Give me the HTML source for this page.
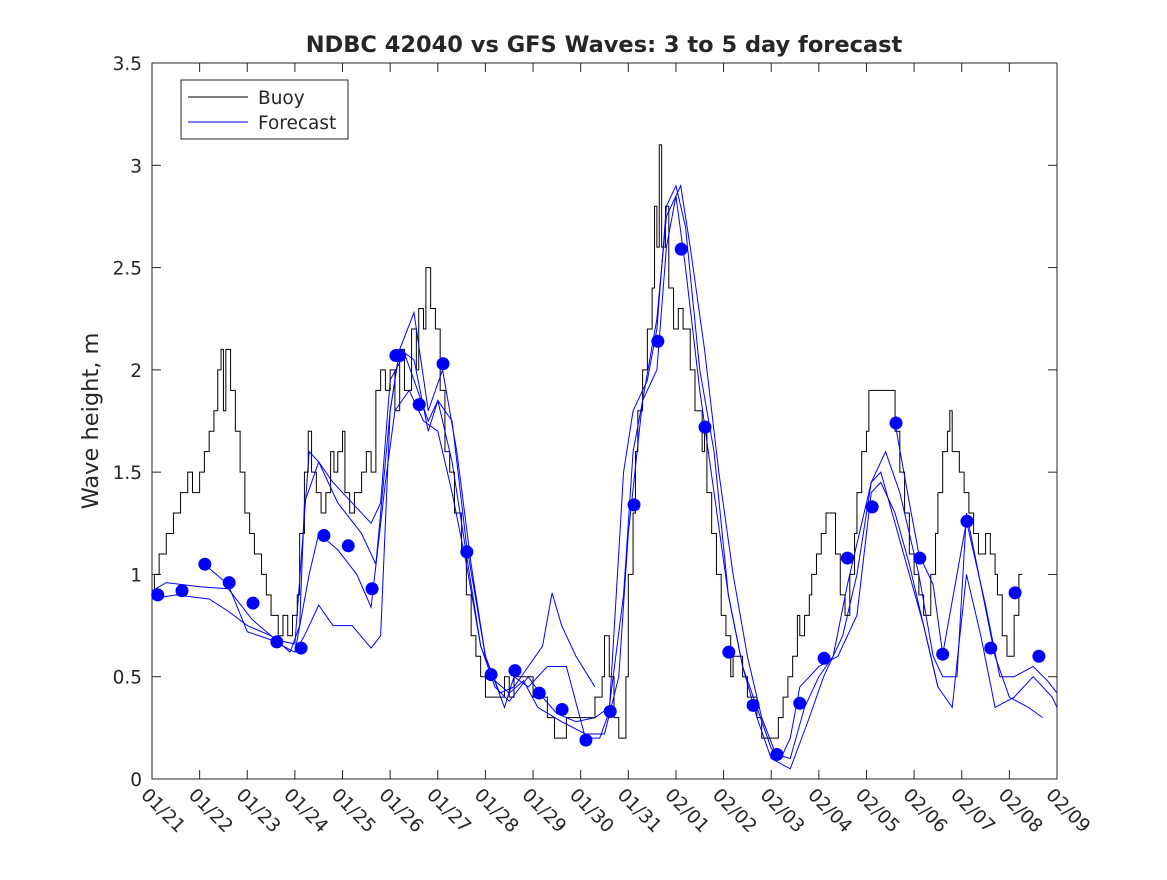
<!DOCTYPE html>
<html><head><meta charset="utf-8"><style>
html,body{margin:0;padding:0;background:#fff;}
svg text{font-family:"DejaVu Sans","Liberation Sans",sans-serif;fill:#262626;}
</style></head><body>
<svg id="chart" width="1167" height="875" xmlns="http://www.w3.org/2000/svg">
<rect width="1167" height="875" fill="#fff"/>
<text x="604" y="52" text-anchor="middle" font-size="22.5" font-weight="bold" fill="#000">NDBC 42040 vs GFS Waves: 3 to 5 day forecast</text>
<text transform="translate(98,421) rotate(-90)" text-anchor="middle" font-size="22.5">Wave height, m</text>
<g id="axes"></g>
<g id="series"></g>
<g>
<rect x="181" y="80" width="167" height="59" fill="#fff" stroke="#262626" stroke-width="1"/>
<line x1="188" y1="97" x2="248" y2="97" stroke="#000"/>
<text x="258" y="104" font-size="18.5">Buoy</text>
<line x1="188" y1="122" x2="248" y2="122" stroke="#00f"/>
<text x="258" y="129" font-size="18.5">Forecast</text>
</g>
</svg>
<script>
const xTickLabels=["01/21","01/22","01/23","01/24","01/25","01/26","01/27","01/28","01/29","01/30","01/31","02/01","02/02","02/03","02/04","02/05","02/06","02/07","02/08","02/09"];
const yTicks=[0,0.5,1,1.5,2,2.5,3,3.5];
const buoyDays=[0,0.05,0.15,0.3,0.45,0.6,0.75,0.85,1.0,1.1,1.2,1.3,1.38,1.45,1.5,1.55,1.65,1.75,1.85,1.95,2.05,2.15,2.3,2.4,2.5,2.65,2.75,2.85,2.95,3.05,3.1,3.2,3.28,3.35,3.45,3.55,3.65,3.75,3.82,3.9,4.0,4.05,4.15,4.25,4.4,4.5,4.6,4.7,4.8,4.9,5.0,5.1,5.2,5.3,5.45,5.55,5.6,5.7,5.75,5.85,5.95,6.05,6.15,6.25,6.35,6.5,6.6,6.7,6.8,6.9,7.0,7.4,7.5,7.6,7.9,8.0,8.3,8.45,8.7,9.3,9.45,9.5,9.6,9.7,9.8,9.95,10.0,10.1,10.15,10.2,10.3,10.4,10.5,10.55,10.6,10.65,10.7,10.78,10.85,10.95,11.05,11.15,11.3,11.4,11.55,11.6,11.65,11.75,11.85,11.95,12.05,12.15,12.2,12.4,12.5,12.7,12.8,13.0,13.15,13.25,13.35,13.45,13.55,13.6,13.7,13.8,13.85,13.95,14.05,14.15,14.35,14.45,14.55,14.65,14.75,14.8,14.9,15.0,15.05,15.6,15.7,15.8,15.9,16.0,16.1,16.2,16.35,16.45,16.5,16.6,16.7,16.75,16.8,16.95,17.05,17.15,17.25,17.35,17.5,17.6,17.7,17.75,17.85,17.95,18.1,18.2,18.27];
const buoyVals=[0.9,1.0,1.1,1.2,1.3,1.4,1.5,1.4,1.5,1.6,1.7,1.8,2.0,2.1,1.8,2.1,1.9,1.7,1.5,1.3,1.2,1.1,1.0,0.9,0.8,0.7,0.8,0.7,0.8,0.9,1.2,1.5,1.7,1.5,1.4,1.3,1.4,1.6,1.5,1.6,1.7,1.4,1.3,1.4,1.5,1.6,1.5,1.9,2.0,1.9,2.0,1.8,2.1,1.9,2.2,2.0,2.3,2.2,2.5,2.3,2.2,1.9,1.6,1.5,1.3,1.1,0.9,0.7,0.6,0.5,0.4,0.5,0.4,0.5,0.5,0.4,0.3,0.2,0.3,0.4,0.5,0.7,0.5,0.3,0.2,0.5,1.0,1.3,1.6,1.8,2.0,2.2,2.4,2.8,2.6,3.1,2.6,2.8,2.4,2.2,2.3,2.2,2.0,1.8,1.6,1.7,1.4,1.2,1.0,0.8,0.7,0.5,0.6,0.5,0.4,0.3,0.2,0.2,0.3,0.4,0.5,0.6,0.8,0.7,0.8,0.9,1.0,1.1,1.2,1.3,1.1,0.9,0.8,1.0,1.2,1.4,1.6,1.7,1.9,1.7,1.5,1.3,1.1,1.0,0.9,0.8,1.0,1.2,1.4,1.6,1.7,1.8,1.6,1.5,1.4,1.3,1.2,1.1,1.2,1.1,1.0,0.9,0.7,0.6,0.8,1.0,1.0];
const fc1Days=[0,0.3,1.0,1.6,2.1,2.6,3.0,3.3,3.5,3.9,4.4,4.7,5.0,5.2,5.5,5.8,6.1,6.4,6.7,7.0,7.3,7.6,7.9,8.2,8.4,8.6,8.9,9.3];
const fc1Vals=[0.92,0.96,0.94,0.93,0.78,0.68,0.66,1.6,1.55,1.35,1.2,1.05,1.8,2.1,2.28,1.8,2.0,1.6,1.05,0.6,0.42,0.45,0.55,0.65,0.91,0.75,0.6,0.45];
const fc2Days=[0,0.5,1.2,1.6,2.0,2.5,2.9,3.1,3.2,3.5,3.8,4.2,4.6,4.8,5.0,5.3,5.5,5.8,6.0,6.3,6.6,6.9,7.2,7.5,7.9,8.2,8.5,8.9,9.3,9.6,9.9,10.1,10.3,10.6,10.8,11.0,11.2,11.5,11.8,12.1,12.4,12.7,13.0,13.2,13.4,13.6,14.0,14.4,14.8,15.1,15.3,15.6,15.9,16.2,16.5];
const fc2Vals=[0.88,0.9,0.88,0.82,0.75,0.7,0.62,0.75,1.35,1.55,1.45,1.35,1.25,1.35,1.95,2.08,1.95,1.75,1.85,1.55,1.1,0.65,0.45,0.38,0.5,0.4,0.32,0.28,0.3,0.35,0.9,1.6,1.85,2.0,2.6,2.85,2.5,1.9,1.4,0.9,0.55,0.35,0.15,0.1,0.2,0.45,0.55,0.6,0.8,1.4,1.45,1.3,1.05,0.75,0.45];
const fc3Days=[1.1,1.6,2.0,2.5,3.0,3.3,3.5,3.9,4.3,4.6,4.9,5.1,5.4,5.7,6.0,6.3,6.6,6.9,7.2,7.5,7.8,8.1,8.6,9.1,9.5,9.8,10.0,10.3,10.6,10.8,11.1,11.3,11.6,11.9,12.2,12.5,12.8,13.1,13.4,13.7,14.0,14.3,14.6,14.9,15.1,15.4,15.7,16.1,16.4,16.6,16.9,17.1,17.4,17.7,18.0,18.4,18.7];
const fc3Vals=[1.05,0.95,0.72,0.68,0.62,1.0,1.2,1.12,1.0,0.84,1.45,1.8,1.9,1.75,1.7,1.4,1.05,0.65,0.48,0.42,0.48,0.35,0.28,0.22,0.22,0.5,1.2,1.85,2.25,2.75,2.9,2.6,2.1,1.5,1.0,0.6,0.3,0.12,0.1,0.35,0.5,0.6,0.95,1.25,1.45,1.6,1.4,1.0,0.6,0.5,0.5,1.3,0.95,0.6,0.4,0.35,0.3];
const fc4Days=[3.0,3.2,3.5,3.8,4.2,4.6,4.8,5.0,5.2,5.5,5.8,6.0,6.3,6.6,7.0,7.4,7.6,7.9,8.3,8.7,9.1,9.4,9.6,9.9,10.1,10.4,10.6,10.8,11.0,11.2,11.5,11.8,12.1,12.4,12.7,13.0,13.4,13.8,14.1,14.5,14.8,15.1,15.3,15.6,15.9,16.2,16.5,16.8,17.1,17.4,17.7,18.1,18.5,18.9,19.0];
const fc4Vals=[0.62,0.7,0.85,0.75,0.75,0.64,0.7,1.8,2.1,2.05,1.7,1.85,1.75,1.15,0.6,0.35,0.5,0.45,0.55,0.55,0.2,0.2,0.33,1.5,1.8,1.95,2.2,2.8,2.9,2.7,2.0,1.6,0.9,0.55,0.3,0.1,0.05,0.3,0.5,0.7,1.0,1.45,1.5,1.25,1.0,0.75,0.45,0.35,1.0,0.7,0.35,0.4,0.5,0.4,0.35];
const fc5Days=[15.6,15.9,16.1,16.4,16.6,17.1,17.5,17.8,18.1,18.5,18.8,19.0];
const fc5Vals=[1.74,1.35,1.1,0.95,0.61,1.26,0.85,0.5,0.5,0.55,0.48,0.42];
const dotDays=[0.12,0.63,1.11,1.62,2.12,2.62,3.13,3.61,4.12,4.62,5.12,5.2,5.61,6.11,6.61,7.12,7.62,8.13,8.61,9.11,9.62,10.12,10.62,11.11,11.61,12.11,12.62,13.12,13.6,14.11,14.6,15.12,15.62,16.12,16.6,17.11,17.61,18.12,18.62];
const dotVals=[0.90,0.92,1.05,0.96,0.86,0.67,0.64,1.19,1.14,0.93,2.07,2.07,1.83,2.03,1.11,0.51,0.53,0.42,0.34,0.19,0.33,1.34,2.14,2.59,1.72,0.62,0.36,0.12,0.37,0.59,1.08,1.33,1.74,1.08,0.61,1.26,0.64,0.91,0.60];

const X0=152,X1=1057,Y0=779,Y1=63;
const xs=d=>X0+(X1-X0)*d/19;
const ys=v=>Y0-(Y0-Y1)*v/3.5;
const NS="http://www.w3.org/2000/svg";
const axes=document.getElementById('axes'), ser=document.getElementById('series');
function mk(tag,attrs,parent){const e=document.createElementNS(NS,tag);for(const k in attrs)e.setAttribute(k,attrs[k]);parent.appendChild(e);return e;}

const frame=mk('rect',{x:X0,y:Y1,width:X1-X0,height:Y0-Y1,fill:'none',stroke:'#262626','stroke-width':1},axes);


yTicks.forEach(v=>{
  const y=ys(v);
  mk('line',{x1:X0,y1:y,x2:X0+9,y2:y,stroke:'#262626'},axes);
  mk('line',{x1:X1,y1:y,x2:X1-9,y2:y,stroke:'#262626'},axes);
  const t=mk('text',{x:X0-10,y:y+7,'text-anchor':'end','font-size':18.5},axes);
  t.textContent=String(v);
  
  
});
xTickLabels.forEach((lab,i)=>{
  const x=xs(i);
  mk('line',{x1:x,y1:Y0,x2:x,y2:Y0-9,stroke:'#262626'},axes);
  mk('line',{x1:x,y1:Y1,x2:x,y2:Y1+9,stroke:'#262626'},axes);
  const t=mk('text',{x:0,y:0,'font-size':18.5,transform:`translate(${x-12},${Y0+17}) rotate(45)`},axes);
  t.textContent=lab;
  
  
});

let d='';
buoyDays.forEach((dd,i)=>{
  const x=xs(dd),y=ys(buoyVals[i]);
  if(i===0)d+=`M${x},${y}`;else d+=`H${x}V${y}`;
});
const bp=mk('path',{d:d,fill:'none',stroke:'#000','stroke-width':1},ser);



[[fc1Days,fc1Vals],[fc2Days,fc2Vals],[fc3Days,fc3Vals],[fc4Days,fc4Vals],[fc5Days,fc5Vals]].forEach((s,k)=>{
  const pts=s[0].map((dd,i)=>xs(dd)+','+ys(s[1][i])).join(' ');
  const p=mk('polyline',{points:pts,fill:'none',stroke:'#00f','stroke-width':1},ser);
  
  
});
dotDays.forEach((dd,i)=>{
  const c=mk('circle',{cx:xs(dd),cy:ys(dotVals[i]),r:6.5,fill:'#00f'},ser);
  
  
});
</script>
</body></html>
